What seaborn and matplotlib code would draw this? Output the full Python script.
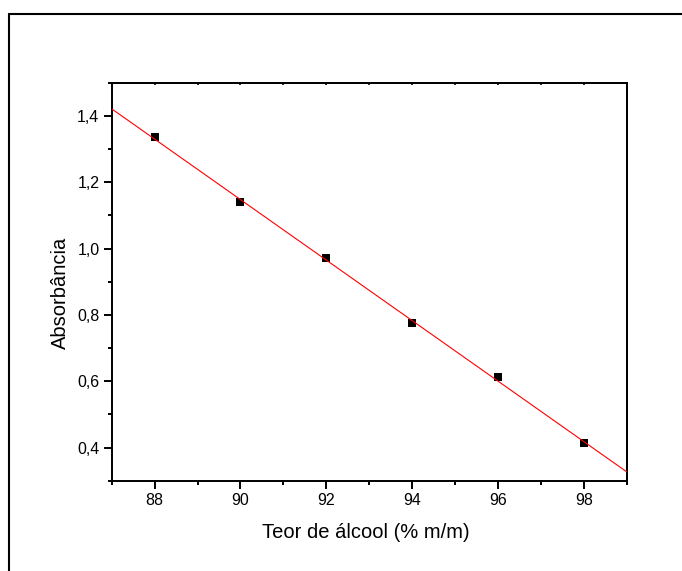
import numpy as np
import pandas as pd
import matplotlib
matplotlib.use('Agg')
import matplotlib.pyplot as plt
from matplotlib.lines import Line2D
from matplotlib.ticker import MultipleLocator
import seaborn as sns

# Teor de álcool vs absorbância
teor = [88, 90, 92, 94, 96, 98]
absorbancia = [1.335, 1.139, 0.970, 0.774, 0.613, 0.413]

x_ticks = [88, 90, 92, 94, 96, 98]
x_tick_labels = ['88', '90', '92', '94', '96', '98']
y_ticks = [0.4, 0.6, 0.8, 1.0, 1.2, 1.4]
y_tick_labels = ['0,4', '0,6', '0,8', '1,0', '1,2', '1,4']

sns.set_style('ticks')
plt.rcParams['font.family'] = ['Liberation Sans', 'DejaVu Sans']
plt.rcParams['text.color'] = 'black'
plt.rcParams['xtick.color'] = 'black'
plt.rcParams['ytick.color'] = 'black'

df = pd.DataFrame({'teor': teor, 'abs': absorbancia})

fig = plt.figure(figsize=(6.82, 5.71), dpi=100)
ax = fig.add_axes([111.7 / 682, 1 - 480.7 / 571, 515 / 682, 398 / 571])
ax.set_xlim(87, 99)
ax.set_ylim(0.3, 1.5)

sns.scatterplot(data=df, x='teor', y='abs', marker='s', s=33, color='black',
                linewidth=0, ax=ax, zorder=3)
# linear fit across the whole axis range
sns.regplot(data=df, x='teor', y='abs', ci=None, truncate=False, scatter=False,
            line_kws={'color': 'red', 'lw': 0.8, 'zorder': 4}, ax=ax)
ax.set_xlim(87, 99)
ax.set_ylim(0.3, 1.5)

ax.set_xticks(x_ticks)
ax.set_xticklabels(x_tick_labels)
ax.set_yticks(y_ticks)
ax.set_yticklabels(y_tick_labels)
ax.xaxis.set_minor_locator(MultipleLocator(1))
ax.yaxis.set_minor_locator(MultipleLocator(0.1))
ax.tick_params(which='major', direction='out', length=5.8, width=1.4,
               labelsize=11.5, pad=3, colors='black')
ax.tick_params(which='minor', direction='out', length=2.9, width=1.4,
               colors='black')
ax.set_xlabel('')
ax.set_ylabel('')
for sp in ax.spines.values():
    sp.set_visible(True)
    sp.set_linewidth(1.4)
    sp.set_color('black')

# small inward ticks on top and right
top = ax.secondary_xaxis('top')
top.set_xticks(np.arange(87, 100, 1))
top.tick_params(direction='in', length=1.5, width=1.2, labeltop=False,
                colors='black')
top.spines['top'].set_linewidth(1.4)
right = ax.secondary_yaxis('right')
right.set_yticks(np.arange(0.3, 1.55, 0.1))
right.tick_params(direction='inout', length=2, width=1.2, labelright=False,
                  colors='black')
right.spines['right'].set_linewidth(1.4)

fig.text(366 / 682, 1 - 538 / 571, 'Teor de álcool (% m/m)', fontsize=14.5,
         ha='center', va='baseline', color='black')
fig.text(60 / 682, 1 - 293 / 571, 'Absorbância', fontsize=14.5,
         rotation=90, ha='center', va='center', color='black')

# outer frame (left and top edges)
fig.add_artist(Line2D([9.3 / 682, 9.3 / 682], [0, 1 - 14.3 / 571],
                      transform=fig.transFigure, color='black', lw=1.5))
fig.add_artist(Line2D([9.3 / 682, 1], [1 - 14.3 / 571, 1 - 14.3 / 571],
                      transform=fig.transFigure, color='black', lw=1.5))

fig.savefig('out.png', dpi=100)
